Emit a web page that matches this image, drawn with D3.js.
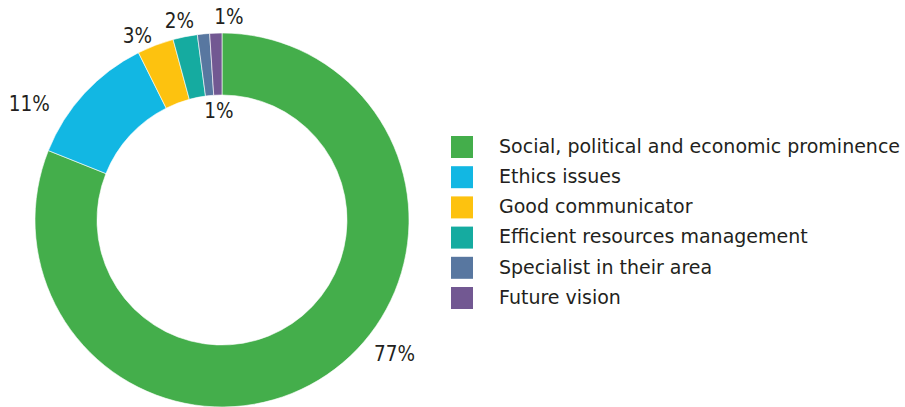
<!DOCTYPE html>
<html>
<head>
<meta charset="utf-8">
<script src="https://cdn.jsdelivr.net/npm/d3@7"></script>
<style>
  html, body { margin: 0; padding: 0; background: #fff; }
  svg { display: block; }
  text { font-family: "DejaVu Sans Condensed", "DejaVu Sans", sans-serif; fill: #231f20; }
  .item text { font-family: "DejaVu Sans", sans-serif; }
</style>
</head>
<body>
<svg id="chart" width="905" height="407"></svg>
<script>
// Survey shares, clockwise from 12 o'clock
const categories = [
  "Social, political and economic prominence",
  "Ethics issues",
  "Good communicator",
  "Efficient resources management",
  "Specialist in their area",
  "Future vision"
];
const values = [77, 11, 3, 2, 1, 1];
const valueLabels = ["77%", "11%", "3%", "2%", "1%", "1%"];
const colors = ["#44ae4b", "#12b7e3", "#fdc20f", "#15aba0", "#5877a0", "#725892"];

const svg = d3.select("#chart");
const cx = 222, cy = 220, rOuter = 187, rInner = 125;

const pie = d3.pie().sort(null).value(d => d)(values);
const arc = d3.arc().innerRadius(rInner).outerRadius(rOuter);

const g = svg.append("g").attr("transform", `translate(${cx},${cy})`);

g.selectAll("path.slice")
  .data(pie)
  .join("path")
  .attr("class", "slice")
  .attr("d", arc)
  .attr("fill", (d, i) => colors[i])
  .attr("stroke", "#fff")
  .attr("stroke-width", 0.6);

// Label placement: angular nudge (degrees) from the slice midpoint and radius
const labelPlace = [
  { shift: -18.2, r: 218 },
  { shift: -11.6, r: 225 },
  { shift: -3.8,  r: 203 },
  { shift: -0.7,  r: 203.5 },
  { shift: 4.1,   r: 109.5 },
  { shift: 3.8,   r: 204 }
];

g.selectAll("text.value")
  .data(pie)
  .join("text")
  .attr("class", "value")
  .each(function (d, i) {
    const p = labelPlace[i];
    const a = (d.startAngle + d.endAngle) / 2 + p.shift * Math.PI / 180;
    d3.select(this)
      .attr("x", Math.sin(a) * p.r)
      .attr("y", -Math.cos(a) * p.r)
      .attr("dy", "0.36em");
  })
  .attr("text-anchor", "middle")
  .attr("font-size", 20.5)
  .text((d, i) => valueLabels[i]);

// Legend
const legend = svg.append("g").attr("transform", "translate(451,136)");
const row = 30.2;
const items = legend.selectAll("g.item")
  .data(categories)
  .join("g")
  .attr("class", "item")
  .attr("transform", (d, i) => `translate(0,${i * row})`);

items.append("rect")
  .attr("width", 22)
  .attr("height", 22)
  .attr("fill", (d, i) => colors[i]);

items.append("text")
  .attr("x", 48)
  .attr("y", 10)
  .attr("dy", "0.36em")
  .attr("font-size", 19)
  .text(d => d);
</script>
</body>
</html>
